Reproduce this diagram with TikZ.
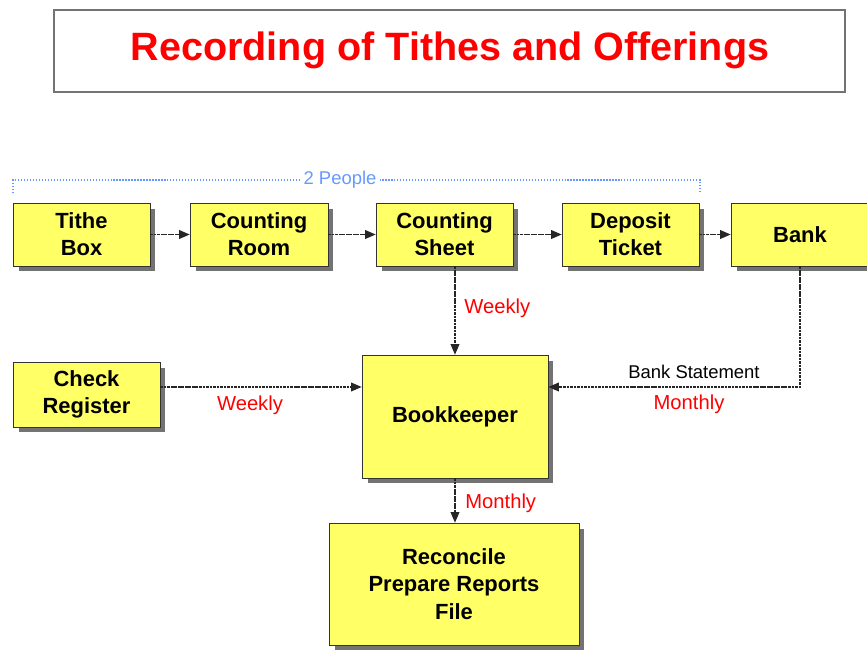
\documentclass[tikz,border=0pt]{standalone}
\usepackage{fontspec}
\setmainfont{Liberation Sans}
\usepackage{tikz}
\usetikzlibrary{arrows.meta}
\usetikzlibrary{shadows}
\definecolor{boxyellow}{RGB}{255,255,102}
\definecolor{peopleblue}{RGB}{102,153,255}
\tikzset{flowbox/.style={draw=black!80, fill=boxyellow, align=center,
         font=\bfseries\fontsize{12.5}{15.5}\selectfont, inner sep=0pt,
         drop shadow={shadow xshift=0.11cm, shadow yshift=-0.11cm, fill=black!55, opacity=1},
         minimum width=#1},
         flowbox/.default={2.74cm},
         flow/.style={draw=black!85, line width=0.6pt, dash pattern=on 1.5pt off 0.5pt,
         -{Triangle[length=6pt,width=5pt]}},
         rlabel/.style={text=red, font=\fontsize{11.5}{13}\selectfont, inner sep=0pt}}

\begin{document}
\begin{tikzpicture}[x=0.02cm, y=-0.02cm]
\useasboundingbox (0,0) rectangle (867,650);

% title
\draw[black!55, line width=0.8pt, fill=white] (54,10) rectangle (845,92);
\node[text=red, font=\bfseries\fontsize{22.5}{27}\selectfont] (title) at (450,50) {Recording of Tithes and Offerings};

% 2 people bracket
\draw[peopleblue, densely dotted, line width=0.7pt] (13,193) -- (13,180) -- (700,180) -- (700,193);
\node[fill=white, text=peopleblue, font=\fontsize{10.5}{12}\selectfont, inner sep=2pt] (people) at (340,180) {2 People};

% top row
\node[flowbox, minimum height=1.26cm] (tithe) at (81.5,234.5) {Tithe\\Box};
\node[flowbox=2.76cm, minimum height=1.26cm] (room) at (259,234.5) {Counting\\Room};
\node[flowbox, minimum height=1.26cm] (sheet) at (444.5,234.5) {Counting\\Sheet};
\node[flowbox, minimum height=1.26cm] (ticket) at (630.5,234.5) {Deposit\\Ticket};
\node[flowbox=2.76cm, minimum height=1.26cm] (bank) at (800,234.5) {Bank};

% middle and bottom
\node[flowbox=2.94cm, minimum height=1.3cm] (check) at (86.5,394.5) {Check\\Register};
\node[flowbox=3.72cm, minimum height=2.46cm] (keeper) at (455,416.5) {Bookkeeper};
\node[flowbox=5cm, minimum height=2.44cm] (reconcile) at (454,584) {Reconcile\\Prepare Reports\\File};

\coordinate (inline) at (0,387);

\draw[flow] (tithe) -- (room);
\draw[flow] (room) -- (sheet);
\draw[flow] (sheet) -- (ticket);
\draw[flow] (ticket) -- (bank);
\draw[flow] (keeper.north |- sheet.south) -- (keeper.north);
\draw[flow] (check.east |- inline) -- (keeper.west |- inline);
\draw[flow] (bank.south) |- (keeper.east |- inline);
\draw[flow] (keeper.south) -- (keeper.south |- reconcile.north);

% labels
\node[rlabel, anchor=west] (wk1) at (464,308) {Weekly};
\node[rlabel] (wk2) at (250,405) {Weekly};
\node[font=\fontsize{10.5}{12}\selectfont, inner sep=0pt] (stmt) at (694,372) {Bank Statement};
\node[rlabel] (mo1) at (689,404) {Monthly};
\node[rlabel, anchor=west] (mo2) at (465,503) {Monthly};
\end{tikzpicture}
\end{document}
